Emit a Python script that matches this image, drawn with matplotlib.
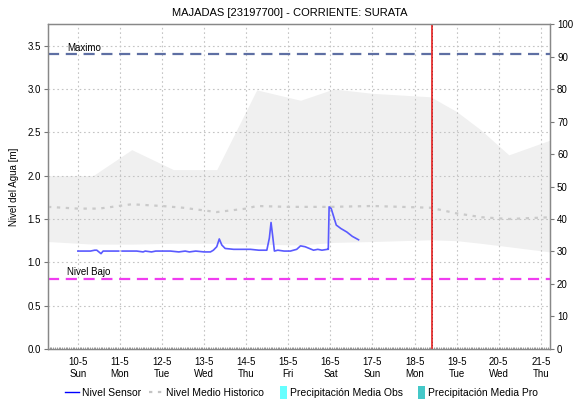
import numpy as np
import matplotlib
matplotlib.use("Agg")
import matplotlib.pyplot as plt
from matplotlib.lines import Line2D
from matplotlib.patches import Rectangle
from matplotlib.legend_handler import HandlerPatch

plt.rcParams["font.family"] = ["Liberation Sans", "DejaVu Sans"]

TITLE = "MAJADAS [23197700] - CORRIENTE: SURATA"

# días de mayo 2020 (eje x en días)
day_ticks = [10, 11, 12, 13, 14, 15, 16, 17, 18, 19, 20, 21]
day_names = ["Sun", "Mon", "Tue", "Wed", "Thu", "Fri", "Sat", "Sun", "Mon", "Tue", "Wed", "Thu"]

# banda histórica (min / max)
band_t = [9.29, 10.36, 11.28, 12.27, 13.30, 14.25, 15.29, 16.08, 17.0, 18.38, 19.0, 19.57, 20.24, 21.22]
band_hi = [2.00, 2.00, 2.30, 2.07, 2.07, 2.99, 2.87, 3.00, 2.95, 2.91, 2.74, 2.53, 2.24, 2.41]
band_lo = [1.24, 1.21, 1.21, 1.22, 1.22, 1.21, 1.20, 1.23, 1.24, 1.26, 1.25, 1.22, 1.18, 1.12]

# nivel medio histórico
mean_t = [9.29, 10.0, 10.5, 11.28, 12.0, 12.5, 13.30, 14.0, 14.25, 15.0, 15.29, 16.0, 17.0, 18.38, 19.0, 19.6, 20.24, 21.22]
mean_v = [1.64, 1.62, 1.62, 1.67, 1.65, 1.63, 1.58, 1.62, 1.65, 1.64, 1.64, 1.64, 1.65, 1.63, 1.565, 1.52, 1.50, 1.52]

# nivel sensor
sensor_t = [10.00, 10.15, 10.30, 10.40, 10.45, 10.50, 10.55, 10.60, 10.75, 10.97, np.nan,
            11.05, 11.20, 11.40, 11.55, 11.60, 11.75, 11.85, 12.00, 12.20, 12.40, 12.55, 12.65,
            12.80, 13.00, 13.15, 13.22, 13.30, 13.36, 13.42, 13.50, 13.70, 13.90, 14.10, 14.30,
            14.49, 14.55, 14.59, 14.63, 14.67, 14.75, 14.90, 15.05, 15.20, 15.29, 15.40, 15.50,
            15.60, 15.70, 15.80, 15.93, 15.95, 15.97, 16.02, 16.14, 16.25, 16.39, 16.52, 16.67]
sensor_v = [1.13, 1.13, 1.13, 1.14, 1.14, 1.12, 1.10, 1.13, 1.13, 1.13, np.nan,
            1.13, 1.13, 1.13, 1.12, 1.13, 1.12, 1.13, 1.13, 1.13, 1.12, 1.13, 1.12,
            1.13, 1.12, 1.12, 1.14, 1.18, 1.27, 1.20, 1.16, 1.15, 1.15, 1.15, 1.14,
            1.14, 1.28, 1.46, 1.30, 1.13, 1.14, 1.13, 1.13, 1.15, 1.19, 1.18, 1.16,
            1.14, 1.15, 1.14, 1.15, 1.15, 1.64, 1.62, 1.43, 1.39, 1.35, 1.30, 1.26]

NIVEL_MAXIMO = 3.40
NIVEL_BAJO = 0.81
AHORA = 18.42

fig = plt.figure(figsize=(5.74, 4.05), dpi=100)
ax = fig.add_axes([0.0836, 0.1383, 0.8747, 0.8024])
ax2 = ax.twinx()

ax.set_xlim(9.29, 21.22)
ax.set_ylim(0, 3.75)
ax2.set_ylim(0, 100)

ax.fill_between(band_t, band_lo, band_hi, color="#f0f0f0", lw=0, zorder=1)
ax.grid(True, color="#c4c4c4", ls=(0, (1.5, 2.5)), lw=0.8, zorder=2)
ax.set_axisbelow(False)

ax.plot(mean_t, mean_v, color="#cacaca", ls=(0, (1.5, 2.5)), lw=1.6, zorder=3)
ax.plot(sensor_t, sensor_v, color="#5a5aff", lw=1.2, zorder=5)

ax.axhline(NIVEL_MAXIMO, color="#5e6fa3", ls=(0, (5, 3)), lw=1.6, zorder=4)
ax.axhline(NIVEL_BAJO, color="#f03cf0", ls=(0, (5, 3)), lw=1.6, zorder=4)
ax.text(9.75, NIVEL_MAXIMO + 0.015, "Maximo", fontsize=7, va="bottom", ha="left")
ax.text(9.75, NIVEL_BAJO + 0.015, "Nivel Bajo", fontsize=7, va="bottom", ha="left")

ax.axvline(AHORA, color="#e83030", lw=1.3, zorder=6)
ax.axvline(AHORA, color="#7a1a1a", lw=0.5, ls=(0, (1, 4)), zorder=7)

ax.set_xticks(day_ticks)
ax.set_xticklabels([f"{d}-5\n{n}" for d, n in zip(day_ticks, day_names)], fontsize=7)
ax.set_xticks(np.arange(9.29 + 1 / 24, 21.22, 1 / 24), minor=True)
ax.set_yticks(np.arange(0, 3.51, 0.5))
ax.set_yticklabels([f"{v:.1f}" for v in np.arange(0, 3.51, 0.5)], fontsize=7)
ax.tick_params(axis="x", which="major", length=0, pad=6)
ax.tick_params(axis="x", which="minor", length=1.5, direction="in", color="#888888", width=0.6)
ax.tick_params(axis="y", length=3, color="#777777", pad=2)
ax.set_ylabel("Nivel del Agua [m]", fontsize=7)
ax.yaxis.set_label_coords(-0.058, 0.5)

ax2.set_yticks(np.arange(0, 101, 10))
ax2.set_yticklabels([str(v) for v in range(0, 101, 10)], fontsize=7)
ax2.tick_params(axis="y", length=3, color="#777777", pad=2)

for a in (ax, ax2):
    for s in a.spines.values():
        s.set_color("#888888")
        s.set_linewidth(0.9)

fig.text(0.505, 0.968, TITLE, ha="center", va="center", fontsize=8)


class NarrowPatch(HandlerPatch):
    def create_artists(self, legend, orig_handle, xdescent, ydescent, width, height, fontsize, trans):
        r = Rectangle((width - 5 - xdescent, -ydescent - 2), 5, height + 4,
                      facecolor=orig_handle.get_facecolor(), edgecolor="none", transform=trans)
        return [r]


handles = [
    Line2D([], [], color="#0000ff", lw=1.0),
    Line2D([], [], color="#c4c4c4", lw=1.6, ls=(0, (1.5, 2.5))),
    Rectangle((0, 0), 1, 1, facecolor="#66ffff"),
    Rectangle((0, 0), 1, 1, facecolor="#44c8c8"),
]
labels = ["Nivel Sensor", "Nivel Medio Historico", "Precipitación Media Obs", "Precipitación Media Pro"]
fig.legend(handles, labels, loc="center", bbox_to_anchor=(0.525, 0.03), ncol=4, frameon=False,
           fontsize=7.5, handlelength=1.35, handletextpad=0.3, columnspacing=0.8,
           handler_map={Rectangle: NarrowPatch()})

fig.savefig("out.png", dpi=100)
